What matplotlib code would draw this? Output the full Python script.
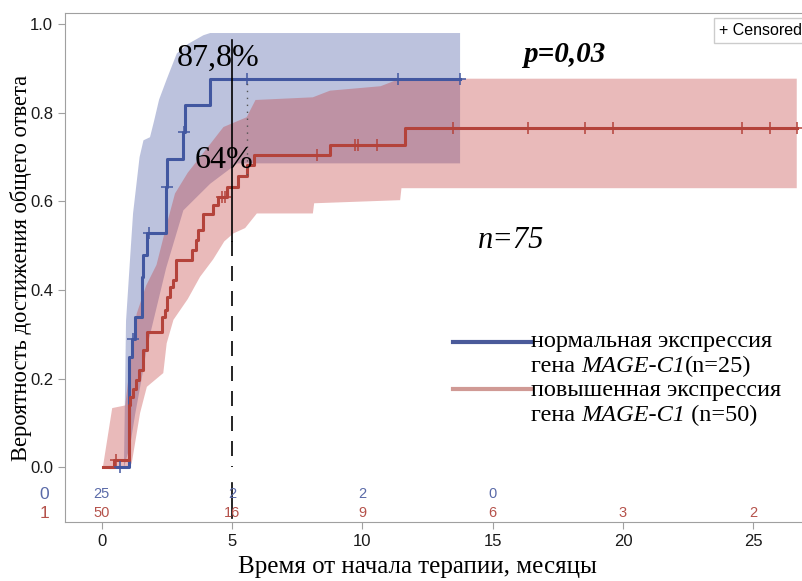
import numpy as np
import matplotlib
matplotlib.use('Agg')
import matplotlib.pyplot as plt

# кривая Каплана-Мейера: нормальная экспрессия (n=25)
t0 = [0.32, 1.06, 1.17, 1.28, 1.53, 1.60, 1.73, 2.47, 2.52, 3.13, 3.18, 4.16, 13.75]
s0 = [0.0, 0.25, 0.29, 0.34, 0.43, 0.48, 0.53, 0.633, 0.695, 0.757, 0.817, 0.877, 0.877]
c0_t = [0.68, 1.21, 1.80, 2.50, 3.15, 5.56, 11.38, 13.75]
c0_s = [0.0, 0.29, 0.53, 0.633, 0.757, 0.877, 0.877, 0.877]

# повышенная экспрессия (n=50)
t1 = [0.04, 0.45, 1.06, 1.10, 1.19, 1.32, 1.44, 1.60, 1.75, 2.30, 2.42, 2.52, 2.62,
      2.75, 2.85, 3.45, 3.62, 3.71, 3.87, 4.28, 4.47, 4.80, 5.24, 5.56, 5.85, 8.76,
      11.64, 26.67]
s1 = [0.0, 0.018, 0.141, 0.16, 0.178, 0.197, 0.22, 0.265, 0.306, 0.34, 0.355, 0.385,
      0.408, 0.423, 0.468, 0.49, 0.513, 0.535, 0.571, 0.592, 0.611, 0.633, 0.658,
      0.682, 0.705, 0.727, 0.765, 0.765]
c1_t = [0.56, 4.60, 4.72, 8.25, 9.72, 9.85, 10.55, 13.49, 16.37, 18.55, 19.61,
        24.56, 25.65, 26.67]
c1_s = [0.018, 0.611, 0.611, 0.705, 0.727, 0.727, 0.727, 0.765, 0.765, 0.765,
        0.765, 0.765, 0.765, 0.765]

# доверительные интервалы
b0_hi_x = [0.85, 0.93, 1.09, 1.20, 1.45, 1.60, 1.85, 2.00, 2.20, 2.50, 2.88, 3.30, 3.90, 4.16, 13.75]
b0_hi = [0.0, 0.33, 0.475, 0.573, 0.70, 0.738, 0.745, 0.78, 0.83, 0.877, 0.934, 0.955, 0.975, 0.98, 0.98]
b0_lo_x = [0.85, 1.09, 1.28, 1.53, 1.73, 2.47, 3.13, 4.16, 5.20, 13.75]
b0_lo = [0.0, 0.05, 0.12, 0.20, 0.27, 0.45, 0.58, 0.64, 0.686, 0.686]

b1_hi_x = [0.04, 0.40, 0.90, 1.06, 1.34, 1.70, 2.10, 2.50, 2.81, 3.30, 3.77, 4.67,
           5.56, 5.90, 8.10, 8.76, 10.70, 11.45, 26.67]
b1_hi = [0.0, 0.134, 0.14, 0.22, 0.347, 0.41, 0.457, 0.55, 0.618, 0.665, 0.70, 0.768,
         0.79, 0.829, 0.835, 0.85, 0.86, 0.877, 0.877]
b1_lo_x = [0.04, 1.06, 1.15, 1.47, 1.73, 2.36, 2.49, 2.75, 3.30, 3.77, 4.28, 4.70,
           5.05, 5.50, 5.95, 8.10, 8.15, 11.45, 11.50, 26.67]
b1_lo = [0.0, 0.0, 0.01, 0.123, 0.182, 0.213, 0.28, 0.333, 0.38, 0.43, 0.47, 0.51,
         0.528, 0.54, 0.573, 0.573, 0.596, 0.603, 0.63, 0.63]

# число пациентов под наблюдением
risk_x = [0, 5, 10, 15, 20, 25]
risk0 = [25, 2, 2, 0]
risk1 = [50, 16, 9, 6, 3, 2]

blue = '#4257a0'
red = '#b4433b'
blue_band = '#3f51a0'
red_band = '#c23a3a'
serif = 'Liberation Serif'

fig = plt.figure(figsize=(8.03, 5.81), dpi=100)
ax = fig.add_axes([0.081, 0.1015, 0.919, 0.876])

ax.fill(np.r_[b0_hi_x, b0_lo_x[::-1]], np.r_[b0_hi, b0_lo[::-1]],
        color=blue_band, alpha=0.35, lw=0)
ax.fill(np.r_[b1_hi_x, b1_lo_x[::-1]], np.r_[b1_hi, b1_lo[::-1]],
        color=red_band, alpha=0.35, lw=0)

ax.step(t0, s0, where='post', color=blue, lw=2.2)
ax.step(t1, s1, where='post', color=red, lw=2.2)
ax.plot(c0_t, c0_s, ls='none', marker='+', ms=8, mew=1.1, color=blue)
ax.plot(c1_t, c1_s, ls='none', marker='+', ms=8, mew=1.1, color=red)

# отметка 5 месяцев
ax.plot([5, 5], [0.965, 0.51], color='black', lw=1.2)
ax.plot([5, 5], [0.51, 0.0], color='black', lw=1.2, dashes=(9, 6))
ax.plot([5, 5], [-0.035, -0.115], color='black', lw=1.2)
ax.plot([5.56, 5.56], [0.66, 0.877], color='#555555', lw=1, dashes=(1, 4))

ax.text(2.89, 0.905, '87,8%', fontsize=23, family=serif)
ax.text(3.58, 0.675, '64%', fontsize=23, family=serif)
ax.text(16.18, 0.915, 'p=0,03', fontsize=21, family=serif,
        style='italic', weight='bold')
ax.text(14.45, 0.494, 'n=75', fontsize=22, family=serif, style='italic')

# таблица риска
for x, n in zip(risk_x, risk0):
    ax.text(x, -0.06, str(n), ha='center', va='center', fontsize=10.5,
            color='#5a6aa8', family='Liberation Sans')
for x, n in zip(risk_x, risk1):
    ax.text(x, -0.103, str(n), ha='center', va='center', fontsize=10.5,
            color='#b5524b', family='Liberation Sans')
ax.text(-2.2, -0.06, '0', ha='center', va='center', fontsize=12.5,
        color='#5a6aa8', family='Liberation Sans', clip_on=False)
ax.text(-2.2, -0.103, '1', ha='center', va='center', fontsize=12.5,
        color='#b5524b', family='Liberation Sans', clip_on=False)

# легенда
ax.plot([0.5257, 0.6314], [0.354, 0.354], transform=ax.transAxes, color='#4a5a9a', lw=3)
ax.plot([0.5257, 0.6314], [0.261, 0.261], transform=ax.transAxes, color='#d09a95', lw=3)
leg_fs = 17.5
for py, s in [(341, 'нормальная экспрессия'), (390, 'повышенная экспрессия')]:
    ax.text(0.6314, (522 - py) / 509, s, transform=ax.transAxes, va='center',
            fontsize=leg_fs, family=serif)
for py, tail in [(366.5, '(n=25)'), (415, ' (n=50)')]:
    p1 = ax.text(0.6314, (522 - py) / 509, 'гена ', transform=ax.transAxes,
                 va='center', fontsize=leg_fs, family=serif)
    p2 = ax.annotate('MAGE-C1', xy=(1, 0), xycoords=p1, va='bottom',
                     fontsize=leg_fs, family=serif, style='italic')
    ax.annotate(tail, xy=(1, 0), xycoords=p2, va='bottom',
                fontsize=leg_fs, family=serif)

ax.text(0.886, 0.9656, '+ Censored', transform=ax.transAxes, va='center',
        fontsize=11.5, family='Liberation Sans',
        bbox=dict(boxstyle='square,pad=0.3', fc='white', ec='#cccccc', lw=1))

ax.set_xlim(-1.41, 26.91)
ax.set_ylim(-0.123, 1.025)
ax.set_xticks([0, 5, 10, 15, 20, 25])
ax.set_yticks([0.0, 0.2, 0.4, 0.6, 0.8, 1.0])
ax.set_yticklabels(['0.0', '0.2', '0.4', '0.6', '0.8', '1.0'])
for sp in ax.spines.values():
    sp.set_color('#a0a0a0')
ax.spines['right'].set_visible(False)
ax.tick_params(colors='#a0a0a0', labelcolor='#1a1a1a', labelsize=12, length=5)
for lab in ax.get_xticklabels() + ax.get_yticklabels():
    lab.set_family('Liberation Sans')

ax.set_xlabel('Время от начала терапии, месяцы', fontsize=18, family=serif)
ax.set_ylabel('Вероятность достижения общего ответа', fontsize=16.3, family=serif)
ax.xaxis.set_label_coords(0.4777, -0.066)
ax.yaxis.set_label_coords(-0.045, 0.5)

fig.savefig('out.png', dpi=100)
